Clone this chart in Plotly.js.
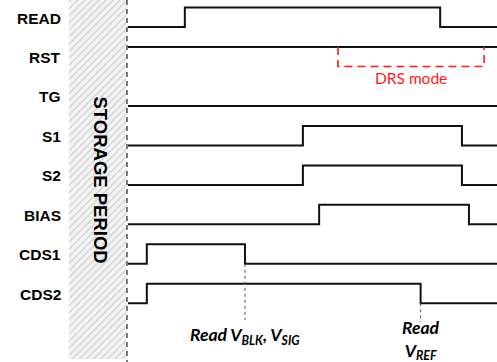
<!DOCTYPE html>
<html>
<head>
<meta charset="utf-8">
<script src="https://cdn.plot.ly/plotly-3.0.1.min.js"></script>
<style>html,body{margin:0;padding:0;background:#fff}#chart{width:497px;height:362px}</style>
</head>
<body>
<div id="chart"></div>
<script>
// ---- data ----
const signals = ['READ', 'RST', 'TG', 'S1', 'S2', 'BIAS', 'CDS1', 'CDS2'];
const initialLevels = [0, 1, 0, 0, 0, 0, 0, 0];
const transitionTimes = [
  [15.4, 84.6],   // READ
  [],             // RST
  [],             // TG
  [47.4, 90.5],   // S1
  [47.4, 90.5],   // S2
  [51.8, 92.4],   // BIAS
  [5.1, 31.7],    // CDS1
  [5.1, 79.3]     // CDS2
];
const endTime = 100;
const drsWindow = [56.9, 96.5];
const readBlkSigTime = 31.7;
const readRefTime = 79.3;

// ---- geometry helpers (pixel <-> data for labels) ----
const W = 497, H = 362;
const x0px = 128, pxPerT = 3.69;
const y0px = 27, pxPerLane = 39.47;
const amp = 0.494;
const tx = p => (p - x0px) / pxPerT;
const ty = p => -(p - y0px) / pxPerLane;

const traces = [];
// hatched storage period
traces.push({
  x: [tx(69), tx(126.5), tx(126.5), tx(69), tx(69)],
  y: [ty(0), ty(0), ty(359), ty(359), ty(0)],
  mode: 'lines', fill: 'toself', line: {width: 0},
  fillcolor: '#f3f3f3',
  fillpattern: {shape: '/', bgcolor: '#f3f3f3', fgcolor: '#c4c4c4', size: 5, solidity: 0.18},
  hoverinfo: 'skip', showlegend: false
});

signals.forEach((name, i) => {
  const xs = [0], ys = [];
  let lvl = initialLevels[i];
  ys.push(-i + lvl * amp);
  transitionTimes[i].forEach(t => {
    lvl = 1 - lvl;
    xs.push(t); ys.push(-i + lvl * amp);
  });
  xs.push(endTime + 1); ys.push(-i + lvl * amp);
  traces.push({
    x: xs, y: ys, mode: 'lines', line: {shape: 'hv', color: '#111', width: 2},
    hoverinfo: 'skip', showlegend: false, name: name
  });
});

const iRST = signals.indexOf('RST');
const iCDS1 = signals.indexOf('CDS1');
const iCDS2 = signals.indexOf('CDS2');

const shapes = [
  // storage boundary dashed line
  {type: 'line', x0: tx(127), x1: tx(127), y0: ty(0), y1: ty(362),
   line: {color: '#222', width: 1.2, dash: '5px,4px'}},
  // DRS mode bracket
  {type: 'path',
   path: `M ${drsWindow[0]} ${-iRST + amp} L ${drsWindow[0]} ${-iRST} L ${drsWindow[1]} ${-iRST} L ${drsWindow[1]} ${-iRST + amp}`,
   line: {color: '#ff1a1a', width: 1.6, dash: '8px,5px'}},
  // read markers
  {type: 'line', x0: readBlkSigTime, x1: readBlkSigTime, y0: -iCDS1, y1: ty(320),
   line: {color: '#555', width: 1, dash: 'dot'}},
  {type: 'line', x0: readRefTime, x1: readRefTime, y0: -iCDS2, y1: ty(322),
   line: {color: '#555', width: 1, dash: 'dot'}}
];

const annotations = signals.map((name, i) => ({
  x: tx(63), y: -i + amp / 2 - 0.02, xanchor: 'right', yanchor: 'middle',
  text: '<b>' + name + '</b>', showarrow: false,
  font: {family: 'Liberation Sans, Arial, sans-serif', size: 15.5, color: '#000'}
}));
annotations.push({
  x: tx(100.5), y: ty(180), text: '<b>STORAGE PERIOD</b>', textangle: 90, showarrow: false,
  xanchor: 'center', yanchor: 'middle',
  font: {family: 'Liberation Sans, Arial, sans-serif', size: 18.5, color: '#000'}
});
annotations.push({
  x: (drsWindow[0] + drsWindow[1]) / 2, y: ty(78), text: 'DRS mode', showarrow: false,
  font: {family: 'Lato, Open Sans, sans-serif', size: 15.5, color: '#ff1a1a'}
});
annotations.push({
  x: readBlkSigTime, y: ty(336), text: '<b><i>Read V<sub>BLK</sub>, V<sub>SIG</sub></i></b>', showarrow: false,
  font: {family: 'Lato, Open Sans, sans-serif', size: 17.5, color: '#000'}
});
annotations.push({
  x: readRefTime, y: ty(340), text: '<b><i>Read<br>V<sub>REF</sub></i></b>', showarrow: false,
  font: {family: 'Lato, Open Sans, sans-serif', size: 17.5, color: '#000'}
});

const layout = {
  width: W, height: H,
  margin: {l: 0, r: 0, t: 0, b: 0, pad: 0},
  paper_bgcolor: '#fff', plot_bgcolor: '#fff',
  xaxis: {range: [tx(0), tx(W)], visible: false, fixedrange: true},
  yaxis: {range: [ty(H), ty(0)], visible: false, fixedrange: true},
  shapes: shapes, annotations: annotations, showlegend: false
};

Plotly.newPlot('chart', traces, layout, {displayModeBar: false, staticPlot: true});
</script>
</body>
</html>
